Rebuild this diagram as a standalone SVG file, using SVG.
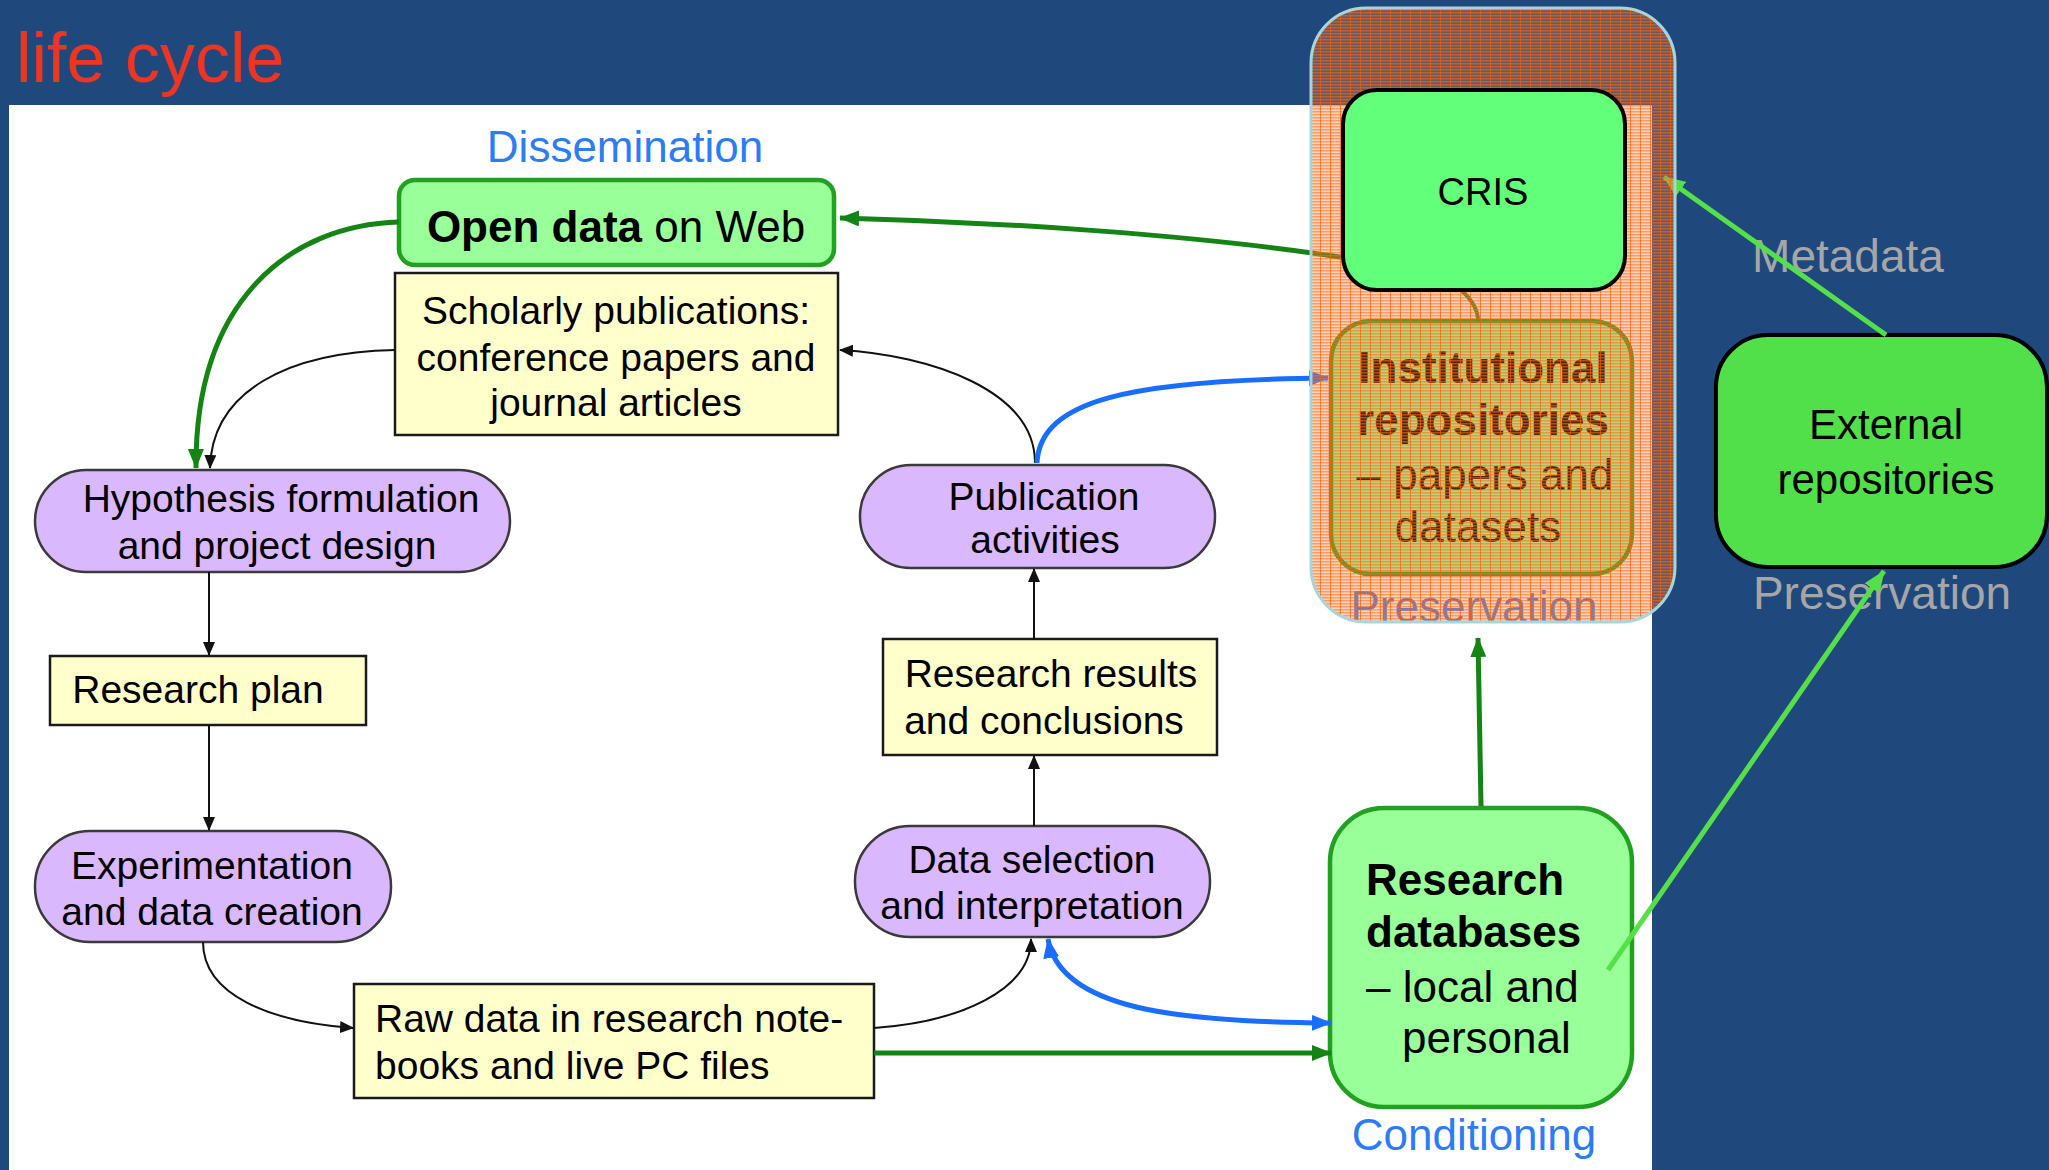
<svg xmlns="http://www.w3.org/2000/svg" width="2049" height="1170" viewBox="0 0 2049 1170">
<defs>
<style>
.t{font-family:"Liberation Sans",Arial,sans-serif;fill:#000}
.box{font-size:39px}
.pill{fill:#d9b8fe;stroke:#3a3a3a;stroke-width:2.5}
.yel{fill:#ffffcc;stroke:#1a1a1a;stroke-width:2.5}
.grn{fill:#99ff99;stroke:#22a022;stroke-width:4.5}
.lbl{font-family:"Liberation Sans",Arial,sans-serif;fill:#2b7cf6;font-size:44px}
.gry{font-family:"Liberation Sans",Arial,sans-serif;fill:#a6a6a6;font-size:46px}
.cb{fill:none;stroke:#111;stroke-width:2}
.cg{fill:none;stroke:#148414;stroke-width:5}
.cbl{fill:none;stroke:#1a6eff;stroke-width:5}
.cl{fill:none;stroke:#55e04a;stroke-width:5}
</style>
<marker id="aB" markerUnits="userSpaceOnUse" markerWidth="14" markerHeight="12" refX="13" refY="6" orient="auto"><path d="M0,0 L14,6 L0,12 z" fill="#111"/></marker>
<marker id="aG" markerUnits="userSpaceOnUse" markerWidth="20" markerHeight="16" refX="19" refY="8" orient="auto"><path d="M0,0 L20,8 L0,16 z" fill="#148414"/></marker>
<marker id="aBl" markerUnits="userSpaceOnUse" markerWidth="20" markerHeight="16" refX="19" refY="8" orient="auto-start-reverse"><path d="M0,0 L20,8 L0,16 z" fill="#1a6eff"/></marker>
<marker id="aL" markerUnits="userSpaceOnUse" markerWidth="22" markerHeight="18" refX="21" refY="9" orient="auto"><path d="M0,0 L22,9 L0,18 z" fill="#55e04a"/></marker>
<pattern id="hatch" patternUnits="userSpaceOnUse" width="10" height="3">
<rect width="10" height="3" fill="#ff7a2a" fill-opacity="0.32"/>
<rect width="10" height="1.5" fill="#ff6a1a" fill-opacity="0.55"/>
<rect width="1" height="3" fill="#ff5a00" fill-opacity="0.65"/>
</pattern>
</defs>

<rect x="0" y="0" width="2049" height="1170" fill="#1f497d"/>
<text x="16" y="82" font-family="Liberation Sans, Arial, sans-serif" font-size="70" fill="#ee3524">life cycle</text>
<rect x="9" y="105" width="1643" height="1065" fill="#ffffff"/>

<g id="labels">
<text class="lbl" x="625" y="162" text-anchor="middle">Dissemination</text>
<text class="lbl" x="1474" y="1150" text-anchor="middle">Conditioning</text>
<text class="lbl" x="1474" y="622" text-anchor="middle" font-size="43">Preservation</text>
<text class="gry" x="1848" y="272" text-anchor="middle">Metadata</text>
<text class="gry" x="1882" y="609" text-anchor="middle">Preservation</text>
</g>

<g id="open-data">
<rect class="grn" x="399" y="180" width="435" height="85" rx="16"/>
<text class="t" x="616" y="242" font-size="44" text-anchor="middle"><tspan font-weight="bold">Open data</tspan> on Web</text>
</g>
<g id="scholarly">
<rect class="yel" x="395" y="273" width="443" height="162"/>
<text class="t box" x="616" y="324" text-anchor="middle">Scholarly publications:</text>
<text class="t box" x="616" y="371" text-anchor="middle">conference papers and</text>
<text class="t box" x="616" y="416" text-anchor="middle">journal articles</text>
</g>
<g id="hypothesis">
<rect class="pill" x="35" y="470" width="475" height="102" rx="51"/>
<text class="t box" x="281" y="512" text-anchor="middle">Hypothesis formulation</text>
<text class="t box" x="277" y="559" text-anchor="middle">and project design</text>
</g>
<g id="research-plan">
<rect class="yel" x="50" y="656" width="316" height="69"/>
<text class="t box" x="198" y="703" text-anchor="middle">Research plan</text>
</g>
<g id="experimentation">
<rect class="pill" x="35" y="831" width="356" height="111" rx="55"/>
<text class="t box" x="212" y="879" text-anchor="middle">Experimentation</text>
<text class="t box" x="212" y="925" text-anchor="middle">and data creation</text>
</g>
<g id="raw-data">
<rect class="yel" x="354" y="984" width="520" height="114"/>
<text class="t box" x="375" y="1032">Raw data in research note-</text>
<text class="t box" x="375" y="1079">books and live PC files</text>
</g>
<g id="data-selection">
<rect class="pill" x="855" y="826" width="355" height="111" rx="55"/>
<text class="t box" x="1032" y="873" text-anchor="middle">Data selection</text>
<text class="t box" x="1032" y="919" text-anchor="middle">and interpretation</text>
</g>
<g id="research-results">
<rect class="yel" x="883" y="639" width="334" height="116"/>
<text class="t box" x="1051" y="687" text-anchor="middle">Research results</text>
<text class="t box" x="1044" y="734" text-anchor="middle">and conclusions</text>
</g>
<g id="publication">
<rect class="pill" x="860" y="465" width="355" height="103" rx="51"/>
<text class="t box" x="1044" y="510" text-anchor="middle">Publication</text>
<text class="t box" x="1045" y="553" text-anchor="middle">activities</text>
</g>
<g id="research-databases">
<rect class="grn" x="1330" y="808" width="302" height="299" rx="54"/>
<text class="t" x="1366" y="895" font-size="44" font-weight="bold">Research</text>
<text class="t" x="1366" y="947" font-size="44" font-weight="bold">databases</text>
<text class="t" x="1366" y="1002" font-size="44">– local and</text>
<text class="t" x="1402" y="1053" font-size="44">personal</text>
</g>
<g id="institutional">
<rect class="grn" x="1331" y="321" width="301" height="253" rx="40"/>
<text class="t" x="1483" y="383" font-size="44" font-weight="bold" text-anchor="middle">Institutional</text>
<text class="t" x="1483" y="435" font-size="44" font-weight="bold" text-anchor="middle">repositories</text>
<text class="t" x="1485" y="490" font-size="44" text-anchor="middle">– papers and</text>
<text class="t" x="1478" y="542" font-size="44" text-anchor="middle">datasets</text>
</g>
<g id="external">
<rect x="1716" y="335" width="331" height="232" rx="52" fill="#52e04a" stroke="#000" stroke-width="4"/>
<text class="t" x="1886" y="439" font-size="42" text-anchor="middle">External</text>
<text class="t" x="1886" y="494" font-size="42" text-anchor="middle">repositories</text>
</g>

<g id="connectors">
<path class="cg" d="M1346,258 C1200,235 1000,222 840,218" marker-end="url(#aG)"/>
<path class="cg" d="M399,222 C290,225 195,300 196,468" marker-end="url(#aG)"/>
<path class="cb" d="M395,350 C290,352 212,390 210,468" marker-end="url(#aB)"/>
<path class="cb" d="M1035,463 C1035,390 930,355 840,350" marker-end="url(#aB)"/>
<path class="cbl" d="M1037,463 C1040,400 1130,380 1328,378" marker-end="url(#aBl)"/>
<path class="cb" d="M209,572 L209,655" marker-end="url(#aB)"/>
<path class="cb" d="M209,725 L209,830" marker-end="url(#aB)"/>
<path class="cb" d="M203,942 C203,995 270,1022 353,1028" marker-end="url(#aB)"/>
<path class="cb" d="M874,1028 C960,1022 1031,990 1031,939" marker-end="url(#aB)"/>
<path class="cb" d="M1034,826 L1034,756" marker-end="url(#aB)"/>
<path class="cb" d="M1034,639 L1034,569" marker-end="url(#aB)"/>
<path class="cbl" d="M1048,939 C1060,1010 1180,1022 1331,1023" marker-start="url(#aBl)" marker-end="url(#aBl)"/>
<path class="cg" d="M874,1053 L1331,1053" marker-end="url(#aG)"/>
<path class="cg" d="M1481,806 L1478,638" marker-end="url(#aG)"/>
<path fill="none" stroke="#2a8a2a" stroke-width="4" d="M1462,291 C1472,300 1478,310 1478,321"/>
<path class="cl" d="M1886,335 L1664,177" marker-end="url(#aL)"/>
<path class="cl" d="M1608,970 L1884,571" marker-end="url(#aL)"/>
</g>

<g id="repository-container">
<rect x="1311" y="8" width="364" height="614" rx="55" fill="url(#hatch)" stroke="#a8d4dc" stroke-width="3"/>
</g>
<g id="cris">
<rect x="1343" y="90" width="282" height="200" rx="34" fill="#62ff7a" stroke="#000" stroke-width="4"/>
<text class="t" x="1483" y="205" font-size="38" text-anchor="middle">CRIS</text>
</g>
</svg>
